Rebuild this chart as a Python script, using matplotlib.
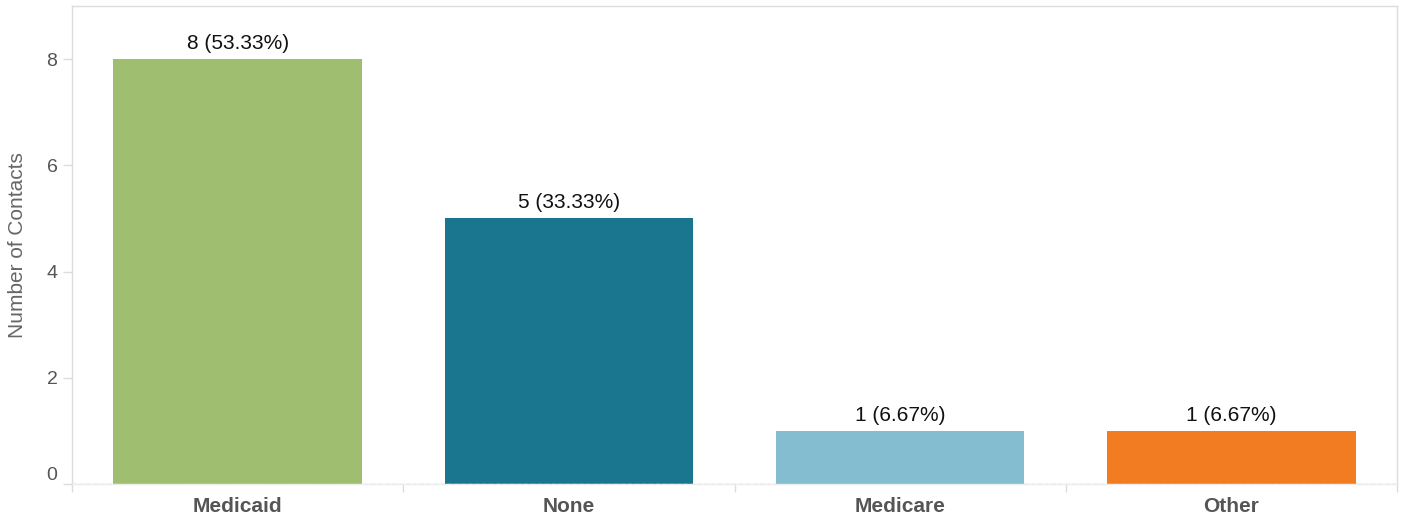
import matplotlib
matplotlib.use("Agg")
import matplotlib.pyplot as plt
from matplotlib.ticker import FixedLocator

categories = ["Medicaid", "None", "Medicare", "Other"]
counts = [8, 5, 1, 1]
labels = ["8 (53.33%)", "5 (33.33%)", "1 (6.67%)", "1 (6.67%)"]
colors = ["#a0be6f", "#1a758f", "#84bdd0", "#f27c22"]
yticks = [0, 2, 4, 6, 8]

plt.rcParams['font.family'] = ['Liberation Sans', 'DejaVu Sans']

W, H = 1404, 516
fig = plt.figure(figsize=(W / 100, H / 100), dpi=100)
ax = fig.add_axes([72 / W, (H - 484) / H, (1397 - 72) / W, (484 - 6) / H])

x = list(range(len(categories)))
ax.bar(x, counts, width=0.75, color=colors, zorder=2)
for xi, c, lab in zip(x, counts, labels):
    ax.annotate(lab, (xi, c), xytext=(0, 4.5), textcoords="offset points",
                ha="center", va="bottom", fontsize=15, color="#111111")

ax.set_xlim(-0.5, len(categories) - 0.5)
ax.set_ylim(0, 9)

ax.axhline(0, color="#c8c8c8", lw=1, ls=(0, (3, 2)), zorder=3)

for s in ax.spines.values():
    s.set_color("#dcdcdc")
    s.set_linewidth(1)
ax.spines["bottom"].set_color("#ececec")

ax.set_yticks(yticks)
ax.set_yticklabels([str(v) for v in yticks])
ax.tick_params(axis="y", length=6.5, width=1, color="#dcdcdc", labelsize=14,
               labelcolor="#555555", pad=4)
for t in ax.get_yticklabels():
    if t.get_text() == "0":
        t.set_va("bottom")

ax.set_xticks(x)
ax.set_xticklabels(categories, fontweight="bold", fontsize=15, color="#555555")
ax.tick_params(axis="x", which="major", length=0, pad=9)
ax.xaxis.set_minor_locator(FixedLocator([i - 0.5 for i in range(len(categories) + 1)]))
ax.tick_params(axis="x", which="minor", length=5.5, width=1, color="#dcdcdc")

ax.set_ylabel("Number of Contacts", fontsize=15, color="#666666", labelpad=14)

fig.savefig("out.png", dpi=100)
